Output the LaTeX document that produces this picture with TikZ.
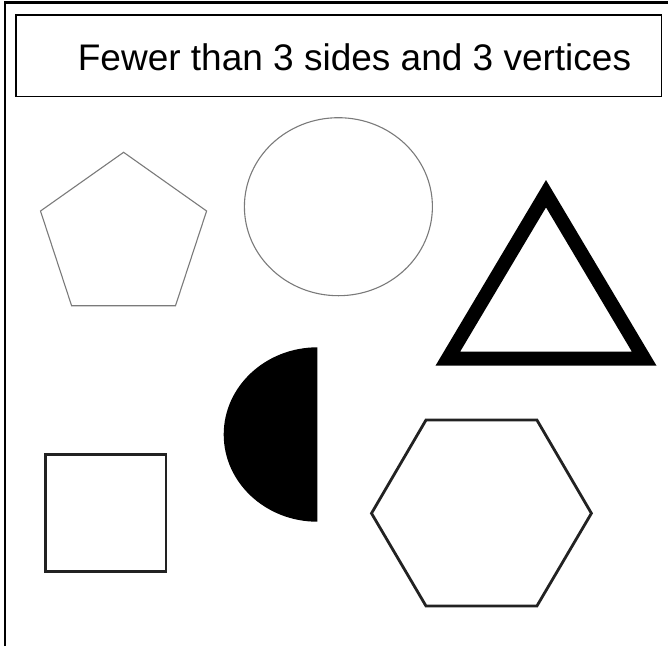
\documentclass[tikz,border=0pt]{standalone}
\usepackage{fontspec}
\setmainfont{Liberation Sans}
\usepackage{tikz}
\usetikzlibrary{positioning}
\usepackage{xcolor}
\definecolor{thinline}{HTML}{7A7A7A}
\definecolor{darkline}{HTML}{222222}

\begin{document}
\begin{tikzpicture}[x=1pt, y=-1pt,
    frameline/.style={line width=2.5pt, color=black},
    thinshape/.style={line width=1.1pt, color=thinline},
    boldshape/.style={line width=2.8pt, color=darkline, line join=miter}]
    \useasboundingbox (0,0) rectangle (668,646);
    % cropped outer frame
    \draw[frameline] (5,646) -- (5,2.5) -- (668,2.5);
    % heading box and its text
    \node[draw, line width=1.5pt, minimum width=645.5pt, minimum height=81.5pt, inner sep=0pt] (headbox) at (338.5,55.5) {};
    \node[anchor=base, inner sep=0pt, font=\fontsize{37}{44}\selectfont] (headtext) at (354.5,70) {Fewer than 3 sides and 3 vertices};
    % pentagon and circle
    \draw[thinshape] (123.6,152.3) -- (206.6,211) -- (175.5,305.7) -- (71.6,305.7) -- (40.5,211) -- cycle;
    \draw[thinshape] (338.4,206.7) ellipse [x radius=94, y radius=89];
    % thick triangle
    \draw[line width=14pt, line join=miter] (546,193.7) -- (644.2,358.7) -- (447.8,358.7) -- cycle;
    % half disc
    \fill[black] (317.4,521.7) arc[start angle=90, end angle=270, x radius=93.7, y radius=87.2] -- cycle;
    % square and hexagon
    \draw[boldshape] (45.3,454.8) rectangle (166,571.2);
    \draw[boldshape] (426,420) -- (536.9,420) -- (591.4,513.3) -- (536.9,606) -- (426,606) -- (371.5,513.3) -- cycle;
\end{tikzpicture}
\end{document}
